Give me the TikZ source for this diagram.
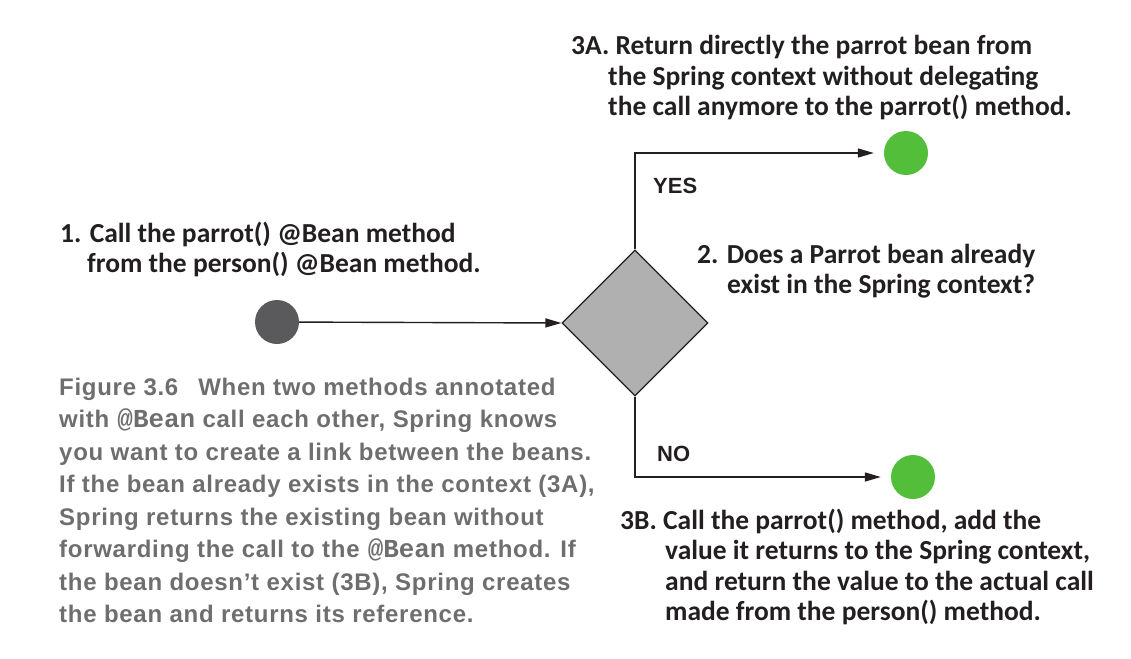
\documentclass[tikz,border=0pt]{standalone}
\usepackage{fontspec}
\setmainfont{Carlito}
\newfontfamily\capfont[LetterSpace=3]{Liberation Sans}
\newfontfamily\answerfont{Liberation Sans}
\setmonofont[Scale=1.08]{Liberation Mono}
\usetikzlibrary{shapes.geometric,arrows.meta}
\definecolor{beangreen}{HTML}{52BE3A}
\definecolor{startgray}{HTML}{5A5A5C}
\definecolor{capgray}{HTML}{6E6E6E}
\definecolor{inkblack}{HTML}{231F20}
\newcommand{\indentby}[1]{\hspace*{#1}}

\begin{document}
\begin{tikzpicture}[x=1pt, y=-1pt,
    dot/.style={circle, inner sep=0pt, minimum size=44pt},
    flow/.style={line width=1.4pt, draw=inkblack, -{Triangle[length=16pt, width=9pt]}},
    note/.style={anchor=base west, inner sep=0pt, text=inkblack, font=\fontsize{27.5}{30.5}\selectfont\bfseries},
    answer/.style={anchor=base west, inner sep=0pt, text=inkblack, font=\answerfont\bfseries\fontsize{22}{26}\selectfont}]
    \useasboundingbox (0,0) rectangle (1131,658);

    \node[dot, fill=startgray] (start) at (277,322) {};
    \node[diamond, draw=inkblack, line width=1.2pt, fill=black!31, inner sep=0pt,
          minimum width=146pt, minimum height=146pt] (check) at (635,323) {};
    \node[dot, fill=beangreen] (found) at (906,153) {}; %3A
    \node[dot, fill=beangreen] (created) at (913,477) {}; %3B

    \draw[flow] (start) -- (check.west);
    \draw[flow, shorten >=10pt] (check.north) |- (found); %YES
    \draw[flow, shorten >=10pt] (check.south) |- (created); %NO

    \node[answer] (yes) at (653,193) {YES};
    \node[answer] (no) at (657,461) {NO};

    \node[note] (call) at (60,242) {\begin{tabular}[t]{@{}l@{}}
        1. Call the parrot() @Bean method\\
        \indentby{27pt}from the person() @Bean method.\end{tabular}};
    \node[note] (exists) at (697,263) {\begin{tabular}[t]{@{}l@{}}
        2. Does a Parrot bean already\\
        \indentby{30pt}exist in the Spring context?\end{tabular}};
    \node[note] (direct) at (571,55) {\begin{tabular}[t]{@{}l@{}}
        3A. Return directly the parrot bean from\\
        \indentby{37pt}the Spring context without delegating\\
        \indentby{37pt}the call anymore to the parrot() method.\end{tabular}};
    \node[note] (delegate) at (620,529) {\begin{tabular}[t]{@{}l@{}}
        3B. Call the parrot() method, add the\\
        \indentby{45pt}value it returns to the Spring context,\\
        \indentby{45pt}and return the value to the actual call\\
        \indentby{45pt}made from the person() method.\end{tabular}};

    % caption
    \node[anchor=base west, inner sep=0pt, text=capgray, font=\capfont\bfseries\fontsize{24}{32.5}\selectfont]
        (caption) at (59,395) {\begin{tabular}[t]{@{}l@{}}
        Figure 3.6\hspace{20pt}When two methods annotated\\
        with \texttt{@Bean} call each other, Spring knows\\
        you want to create a link between the beans.\\
        If the bean already exists in the context (3A),\\
        Spring returns the existing bean without\\
        forwarding the call to the \texttt{@Bean} method. If\\
        the bean doesn’t exist (3B), Spring creates\\
        the bean and returns its reference.\end{tabular}};
\end{tikzpicture}
\end{document}
